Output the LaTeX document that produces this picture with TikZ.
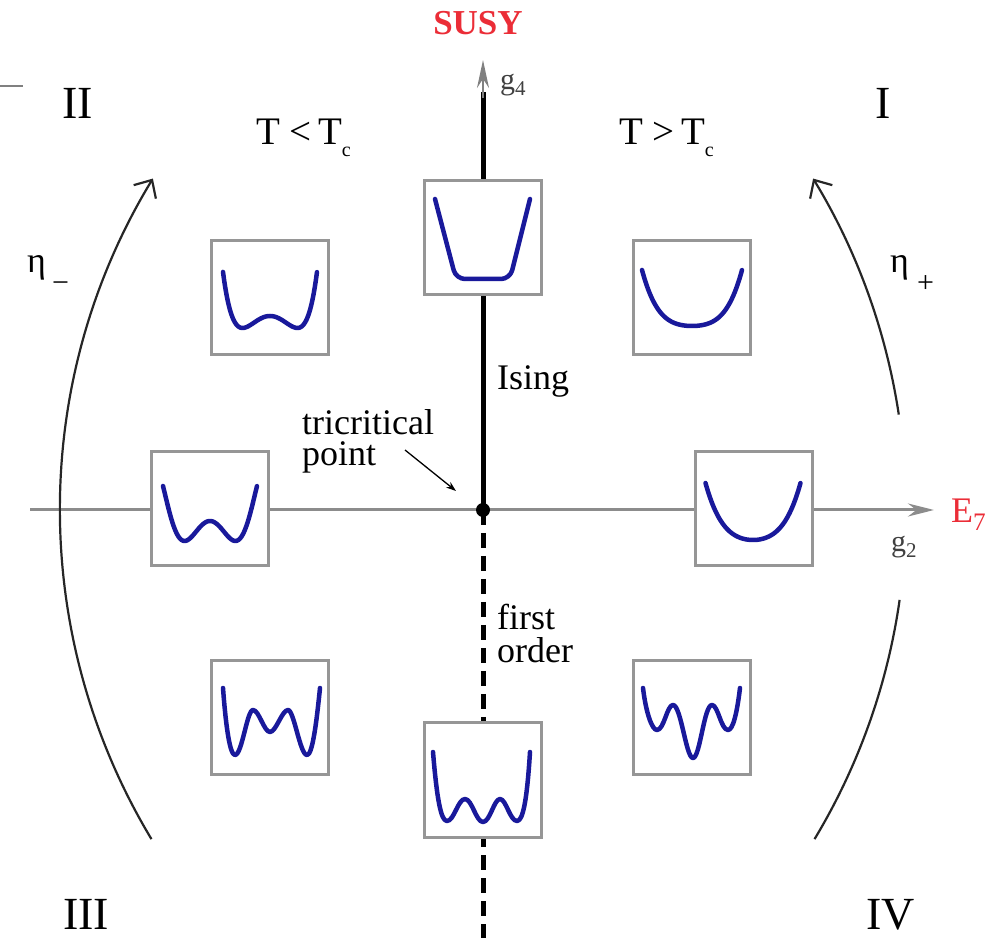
\documentclass[tikz,border=0pt]{standalone}
\usepackage{fontspec}
\setmainfont{Liberation Serif}
\usetikzlibrary{arrows.meta}
\definecolor{curveblue}{RGB}{25,25,155}
\definecolor{susyred}{RGB}{235,45,55}
\definecolor{boxgray}{RGB}{150,150,150}
\definecolor{axisgray}{RGB}{140,140,140}
\begin{document}
\begin{tikzpicture}[x=1pt,y=1pt,
  potbox/.style={draw=boxgray, line width=3pt, fill=white, minimum width=117pt, minimum height=114pt, inner sep=0pt},
  pot/.style={draw=curveblue, line width=4.5pt, line cap=round, line join=round},
  lab/.style={inner sep=0pt, font=\fontsize{36}{36}\selectfont},
  sublab/.style={inner sep=0pt, font=\fontsize{30}{30}\selectfont, text=black!75},
  roman/.style={inner sep=0pt, font=\fontsize{46}{46}\selectfont},
  flowline/.style={line width=2.2pt, draw=black!85},
  flow/.style={flowline, -{Straight Barb[length=14pt,width=26pt,line width=2.2pt]}},
]
\useasboundingbox (0,0) rectangle (994,938);

% axes
\coordinate (tc) at (483,428);
\coordinate (vtop) at (483,878);
\coordinate (vbase) at (483,846);
\coordinate (varrow) at (483,840);
\coordinate (vbot) at (483,0);
\coordinate (hl) at (30,428);
\coordinate (hr) at (934,428);

\draw[line width=3pt, draw=axisgray, -{Stealth[length=26pt,width=13pt]}] (hl) -- (hr);
\draw[line width=5pt] (tc) -- (vbase);
\draw[line width=2pt, draw=gray, -{Stealth[length=28pt,width=12pt]}] (varrow) -- (vtop);
\draw[line width=5pt, dash pattern=on 15pt off 8pt] (tc) -- (vbot);

% flow arcs
\draw[flow] (698,428) ++(211.06:638) arc[start angle=211.06, end angle=148.7, radius=638];
\draw[flow] (268,428) ++(8.6:638) arc[start angle=8.6, end angle=31.3, radius=638];
\draw[flowline] (268,428) ++(-31.06:638) arc[start angle=-31.06, end angle=-8.1, radius=638];

% stray line top left
\draw[line width=1.5pt, draw=gray] (0,852) -- (23,852);

% boxes
\node[potbox] (btop) at (483,700) {};
\node[potbox] (bbot) at (483,158) {};
\node[potbox] (bII) at (270,640) {};
\node[potbox] (bI) at (692,640) {};
\node[potbox] (bL) at (210,429) {};
\node[potbox] (bR) at (754,429) {};
\node[potbox] (bIII) at (270,220) {};
\node[potbox] (bIV) at (692,220) {};

% potentials
\draw[pot, rounded corners=9pt, shift={(btop.center)}] (-48,39) -- (-27,-41) -- (27,-41) -- (47,39);
\draw[pot, shift={(bII.center)}] plot[domain=-1:1, samples=81, smooth]
  ({47*\x},{-18-67.7*(\x)^2+87*(\x)^4+24.75*(\x)^6});
\draw[pot, shift={(bI.center)}] plot[domain=-1:1, samples=81, smooth]
  ({50*\x},{-28+56*(0.35*(\x)^2+0.65*(\x)^4)});
\draw[pot, shift={(bL.center)}] plot[domain=-1:1, samples=81, smooth]
  ({47*\x},{-12-147*(\x)^2+305*(\x)^4-123*(\x)^6});
\draw[pot, shift={(bR.center)}] plot[domain=-1:1, samples=81, smooth]
  ({47.5*\x-1},{-31+57*(0.5*(\x)^2+0.5*(\x)^4)});
\draw[pot, shift={(bbot.center)}] (-50,28) .. controls (-46,-20) and (-42,-41) .. (-36,-41)
 .. controls (-29,-41) and (-25,-19) .. (-18,-19)
 .. controls (-11,-19) and (-7,-42) .. (0,-42)
 .. controls (7,-42) and (11,-19) .. (17,-19)
 .. controls (23,-19) and (27,-41) .. (34,-41)
 .. controls (40,-41) and (44,-20) .. (47,28);
\draw[pot, shift={(bIII.center)}] (-47,30) .. controls (-44,-10) and (-40,-37) .. (-35,-37)
 .. controls (-28,-37) and (-23,8) .. (-17,8)
 .. controls (-11,8) and (-6,-14) .. (0,-14)
 .. controls (6,-14) and (12,8) .. (18,8)
 .. controls (24,8) and (30,-37) .. (37,-37)
 .. controls (42,-37) and (46,-10) .. (50,30);
\draw[pot, shift={(bIV.center)}] (-49,30) .. controls (-46,5) and (-40,-12) .. (-35,-12)
 .. controls (-28,-12) and (-25,13) .. (-19,13)
 .. controls (-11,13) and (-6,-40) .. (1,-40)
 .. controls (8,-40) and (12,13) .. (20,13)
 .. controls (26,13) and (29,-12) .. (36,-12)
 .. controls (41,-12) and (45,5) .. (48,30);

% tricritical point
\node[circle, fill=black, inner sep=0pt, minimum size=14pt] (tcdot) at (tc) {};

% labels
\node[inner sep=0pt, text=susyred, font=\fontsize{35}{35}\selectfont\bfseries] (susy) at (478,915) {SUSY};
\node[sublab, anchor=base west] (g4) at (500,848) {g\textsubscript{4}};
\node[lab, anchor=base west, text=susyred] (e7) at (951,415) {E\textsubscript{7}};
\node[sublab, anchor=base west] (g2) at (891,386) {g\textsubscript{2}};

\node[roman, anchor=base west] (rII) at (62,819) {II};
\node[roman, anchor=base west] (rI) at (875,819) {I};
\node[roman, anchor=base west] (rIII) at (63,9) {III};
\node[roman, anchor=base west] (rIV) at (866,9) {IV};

\node[inner sep=0pt, anchor=base west, font=\fontsize{39}{39}\selectfont] (tlow) at (256,793)
  {T\hspace{9pt}<\hspace{8pt}T\hspace{-1pt}\raisebox{-12pt}{\fontsize{20}{20}\selectfont c}};
\node[inner sep=0pt, anchor=base west, font=\fontsize{39}{39}\selectfont] (thigh) at (619,793)
  {T\hspace{9pt}>\hspace{8pt}T\hspace{-1pt}\raisebox{-12pt}{\fontsize{20}{20}\selectfont c}};

\node[lab, anchor=base west] (etam) at (27,665) {η\hspace{6pt}\raisebox{-20pt}{\fontsize{30}{30}\selectfont −}};
\node[lab, anchor=base west] (etap) at (890,665) {η\hspace{8pt}\raisebox{-20pt}{\fontsize{30}{30}\selectfont +}};

\node[lab, anchor=base west] (ising) at (497,548) {Ising};
\node[lab, align=left, anchor=north west, font=\fontsize{36}{33}\selectfont] (forder) at (497,334) {first\\order};
\node[lab, align=left, anchor=north west, font=\fontsize{36}{31}\selectfont] (tclab) at (302,529) {tricritical\\point};

\coordinate (tcas) at (405,488);
\coordinate (tcae) at (456,447);
\draw[line width=1.3pt, -{Stealth[length=10pt,width=7pt]}] (tcas) -- (tcae);
\end{tikzpicture}
\end{document}
